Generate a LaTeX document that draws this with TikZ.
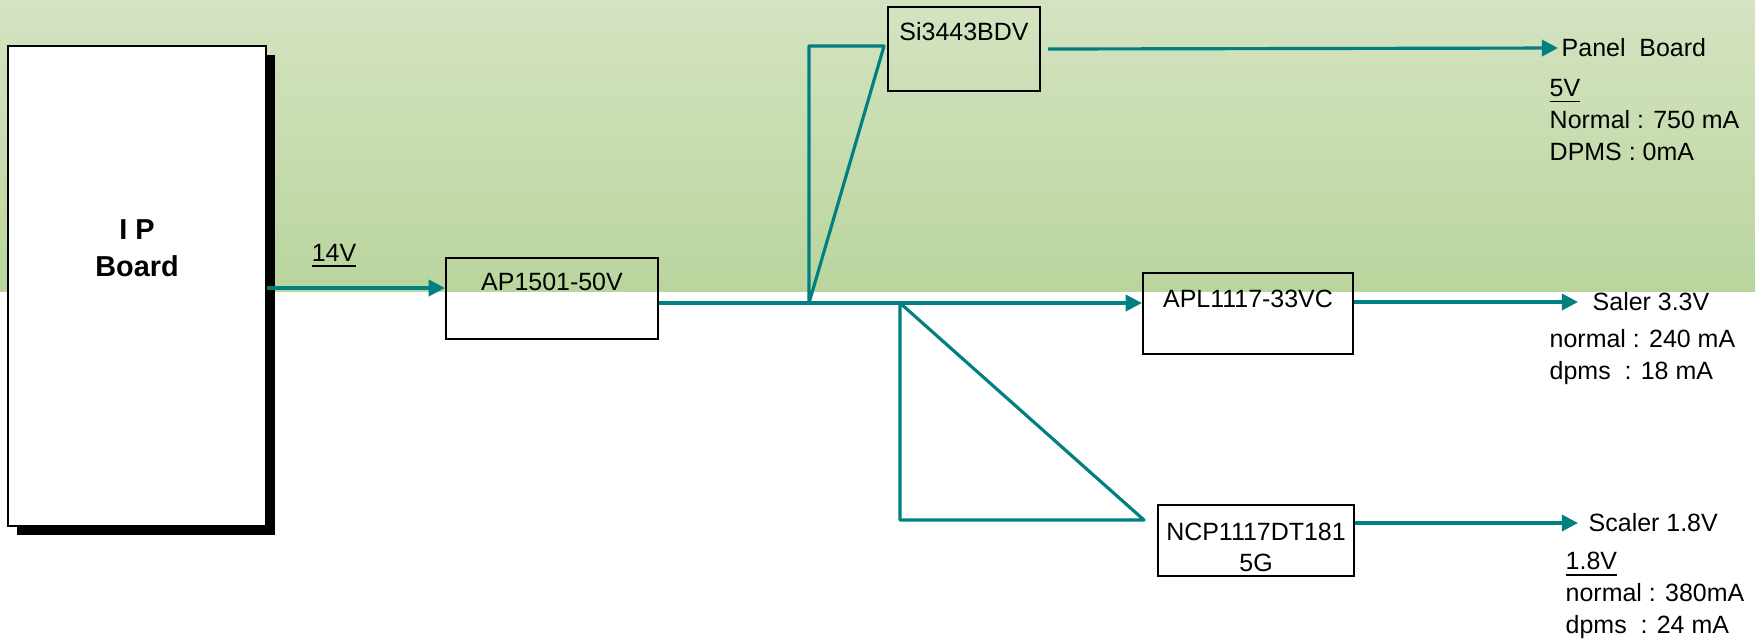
\documentclass[tikz,border=0pt]{standalone}
\usepackage{fontspec}
\setmainfont{Liberation Sans}
\usepackage{tikz}
\usetikzlibrary{arrows.meta,calc,shadows}
\definecolor{bgTop}{HTML}{D5E3C1}
\definecolor{bgBottom}{HTML}{B9D59D}
\definecolor{wireTeal}{HTML}{008080}

\begin{document}
\begin{tikzpicture}[x=0.01cm,y=-0.01cm,
  font=\fontsize{7.1}{9.1}\selectfont,
  box/.style={draw=black,line width=0.6pt,inner sep=0pt},
  wire/.style={wireTeal,line width=0.9pt,line join=round},
  pwr/.style={wire,-{Triangle[length=4.6pt,width=4.6pt]}},
  note/.style={inner sep=0pt,anchor=west,align=left}]
\useasboundingbox (0,0) rectangle (1755,641);
% background
\shade[top color=bgTop,bottom color=bgBottom] (0,0) rectangle (1755,291);
% IP board
\node[box,fill=white,minimum width=2.58cm,minimum height=4.8cm,
  drop shadow={fill=black,opacity=1,shadow xshift=0.09cm,shadow yshift=-0.09cm},
  label={[anchor=center,yshift=0.375cm,align=center,font=\fontsize{8.2}{10.5}\selectfont\bfseries]center:I P\\Board}] (ip) at (137,286) {};
% regulators
\node[box,minimum width=2.12cm,minimum height=0.81cm,
  label={[anchor=center,yshift=-0.25cm]north:AP1501-50V}] (ap) at (552,298.5) {};
\node[box,minimum width=1.52cm,minimum height=0.84cm,
  label={[anchor=center,yshift=-0.26cm]north:Si3443BDV}] (si) at (964,49) {};
\node[box,minimum width=2.10cm,minimum height=0.81cm,
  label={[anchor=center,yshift=-0.27cm]north:APL1117-33VC}] (apl) at (1248,313.5) {};
\node[box,minimum width=1.96cm,minimum height=0.71cm,
  label={[anchor=center,yshift=-0.07cm,align=center,font=\fontsize{7.1}{8.8}\selectfont]center:NCP1117DT181\\5G}] (ncp) at (1256,540.5) {};
% outputs
\node[note] (panel) at (1561,48) {Panel\ \ Board};
\node[note] (panelInfo) at (1549,120) {\underline{5V}\\Normal : 750 mA\\DPMS : 0mA};
\node[note] (saler) at (1592,302) {Saler 3.3V};
\node[note] (salerInfo) at (1549,357.5) {normal : 240 mA\\dpms\ \ : 18 mA};
\node[note] (scaler) at (1588,523) {Scaler 1.8V};
\node[note] (scalerInfo) at (1565,595.5) {\underline{1.8V}\\normal : 380mA\\dpms\ \ : 24 mA};
\node[note,anchor=center] (v14) at (334,256) {\underline{14V}};
% junctions
\coordinate (j1) at (809,303);
\coordinate (j2) at (900,303);
\coordinate (t1) at (884,46);
\coordinate (t2) at (1144,520);
% wires
\draw[pwr] ([yshift=0.105cm]ap.west -| ip.east) -- ([yshift=0.105cm]ap.west);
\draw[pwr] (ap.east |- j1) -- (apl.west |- j1);
\draw[wire] (j1) -- (j1 |- t1) -- (t1) -- cycle;
\draw[wire] (j2) -- (j2 |- t2) -- (t2) -- cycle;
\draw[pwr] ([xshift=0.07cm]si.east) -- ([xshift=-0.03cm]panel.west);
\draw[pwr] (apl.east |- saler.west) -- ([xshift=-0.14cm]saler.west);
\draw[pwr] (ncp.east |- scaler.west) -- ([xshift=-0.1cm]scaler.west);
\end{tikzpicture}
\end{document}
